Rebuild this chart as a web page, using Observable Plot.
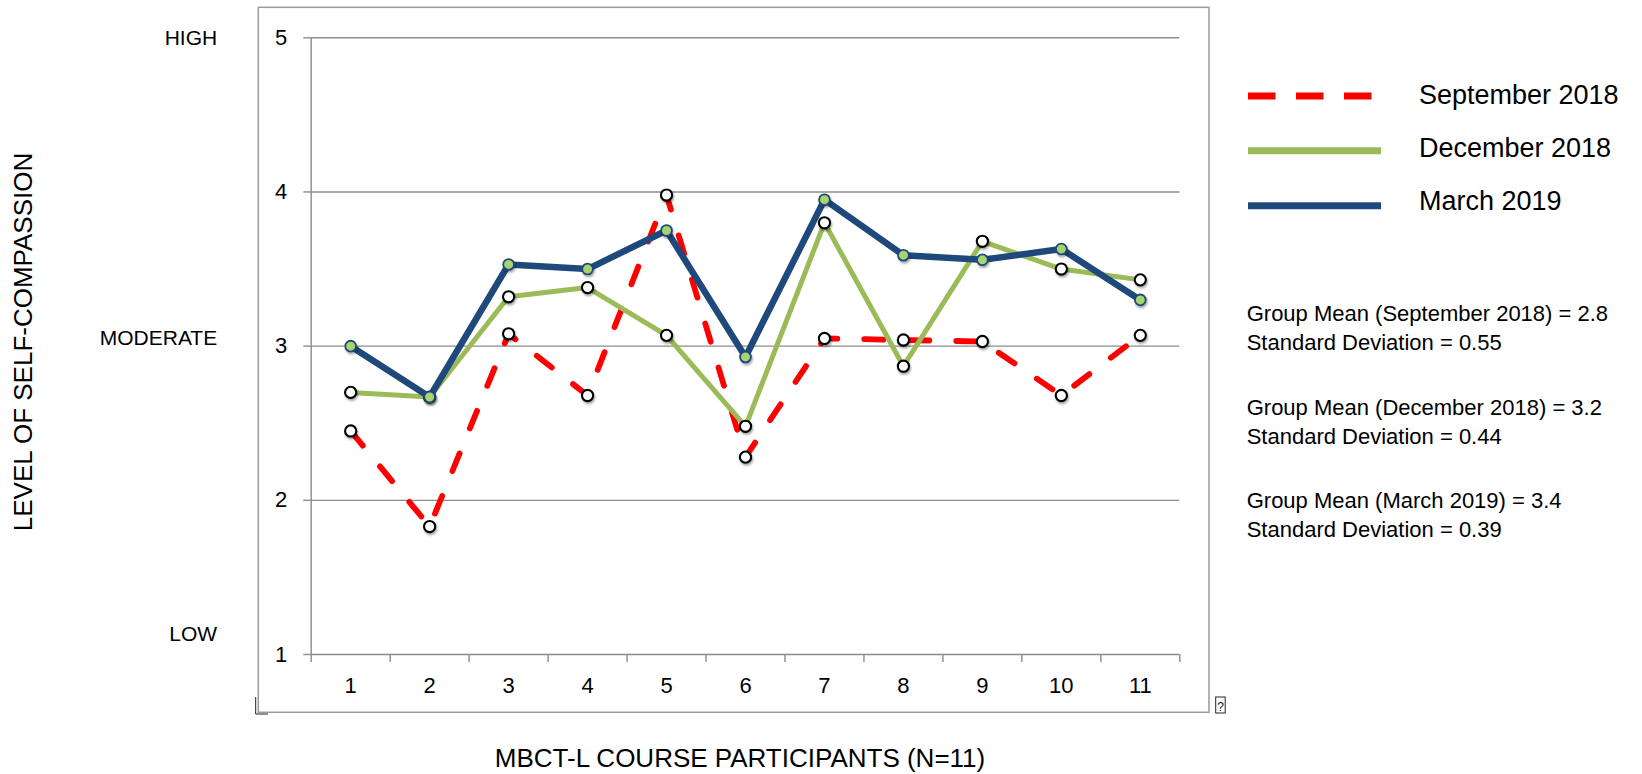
<!DOCTYPE html>
<html><head><meta charset="utf-8">
<script src="https://cdn.jsdelivr.net/npm/d3@7"></script>
<script src="https://cdn.jsdelivr.net/npm/@observablehq/plot@0.6"></script>
<style>html,body{margin:0;padding:0;background:#fff;overflow:hidden;}</style>
</head><body><div id="chart"></div>
<script>
const participants = [1, 2, 3, 4, 5, 6, 7, 8, 9, 10, 11];
const sep2018 = [2.45, 1.83, 3.08, 2.68, 3.98, 2.28, 3.05, 3.04, 3.03, 2.68, 3.07];
const dec2018 = [2.70, 2.67, 3.32, 3.38, 3.07, 2.48, 3.80, 2.87, 3.68, 3.50, 3.43];
const mar2019 = [3.00, 2.67, 3.53, 3.50, 3.75, 2.93, 3.95, 3.59, 3.56, 3.63, 3.30];
const yTicks = [1, 2, 3, 4, 5];
const levelNames = ["HIGH", "MODERATE", "LOW"];
const levelValues = [5, 3, 1];
const seriesNames = ["September 2018", "December 2018", "March 2019"];
const statLines = [
  ["Group Mean (September 2018) = 2.8", "Standard Deviation = 0.55"],
  ["Group Mean (December 2018) = 3.2", "Standard Deviation = 0.44"],
  ["Group Mean (March 2019) = 3.4", "Standard Deviation = 0.39"]
];
const xTitle = "MBCT-L COURSE PARTICIPANTS (N=11)";
const yTitle = "LEVEL OF SELF-COMPASSION";

const toRows = vals => participants.map((p, i) => ({p, v: vals[i]}));
const sep = toRows(sep2018), dec = toRows(dec2018), mar = toRows(mar2019);
const boundaries = [...participants.map(p => p - 0.5), participants[participants.length - 1] + 0.5];

const GRID = "#8c8c8c", RED = "#ff0000", GREEN = "#9bbb59", BLUE = "#1f497d", LIGHTG = "#a8d46f";
const FONT = "'Liberation Sans', Arial, Helvetica, sans-serif";

const levelDy = [0, -8, -20];

const chart = Plot.plot({
  width: 1642, height: 774,
  marginLeft: 310.7, marginRight: 462.7, marginTop: 37.3, marginBottom: 120,
  x: {domain: [0.5, 11.5]},
  y: {domain: [1, 5]},
  style: {fontFamily: FONT, fontSize: "22px", background: "white", color: "black", overflow: "visible"},
  marks: [
    Plot.ruleY(yTicks, {stroke: GRID, strokeWidth: 1.4}),
    Plot.ruleX([0.5], {y1: 1, y2: 5, stroke: GRID, strokeWidth: 1.4}),
    Plot.axisY({ticks: yTicks, tickSize: 7.4, tickPadding: 16.6, stroke: GRID, strokeWidth: 1.4, fill: "black", fontSize: 22, label: null, tickFormat: d => String(d)}),
    Plot.axisX({ticks: boundaries, tickSize: 8, tickFormat: () => "", stroke: GRID, strokeWidth: 1.4, label: null}),
    Plot.axisX({ticks: participants, tickSize: 0, tickPadding: 23.3, fill: "black", fontSize: 22, label: null, tickFormat: d => String(d)}),
    ...levelNames.map((name, i) => Plot.text([levelValues[i]], {
      y: d => d, text: () => name, frameAnchor: "left", dx: -94, dy: levelDy[i],
      textAnchor: "end", fontSize: 21, fill: "black", style: "letter-spacing:0.6px"
    })),
    Plot.line(sep, {x: "p", y: "v", stroke: RED, strokeWidth: 5.8, strokeDasharray: "19,27", strokeLinecap: "round", strokeLinejoin: "round"}),
    Plot.dot(sep, {x: "p", y: "v", r: 5.6, fill: "white", stroke: "black", strokeWidth: 2.1}),
    Plot.line(dec, {x: "p", y: "v", stroke: GREEN, strokeWidth: 5, strokeLinejoin: "round"}),
    Plot.dot(dec, {x: "p", y: "v", r: 5.6, fill: "white", stroke: "black", strokeWidth: 2.1}),
    Plot.line(mar, {x: "p", y: "v", stroke: BLUE, strokeWidth: 6.5, strokeLinejoin: "round"}),
    Plot.dot(mar, {x: "p", y: "v", r: 5.4, fill: LIGHTG, stroke: BLUE, strokeWidth: 1.8})
  ]
});

document.getElementById("chart").appendChild(chart);
const svg = d3.select(chart);

// shadow filter for markers
const defs = svg.insert("defs", ":first-child");
const f = defs.append("filter").attr("id", "mshadow").attr("x", "-50%").attr("y", "-50%").attr("width", "200%").attr("height", "200%");
f.append("feDropShadow").attr("dx", 1).attr("dy", 2).attr("stdDeviation", 1.3).attr("flood-color", "#000").attr("flood-opacity", 0.35);
svg.selectAll('g[aria-label="dot"]').attr("filter", "url(#mshadow)");

// outer chart box
svg.insert("rect", "defs + *")
  .attr("x", 258.3).attr("y", 7.3).attr("width", 950.7).attr("height", 705)
  .attr("fill", "none").attr("stroke", "#9a9a9a").attr("stroke-width", 1.5);

const extra = svg.append("g").attr("text-anchor", "start").attr("font-family", FONT).attr("fill", "black");

// small glyph artifacts at box corners
extra.append("path").attr("d", "M255.7,697 V714 H268").attr("fill", "none").attr("stroke", "#222").attr("stroke-width", 1);
extra.append("rect").attr("x", 1215.7).attr("y", 697).attr("width", 9.5).attr("height", 16)
  .attr("fill", "none").attr("stroke", "#222").attr("stroke-width", 1);
extra.append("text").attr("x", 1220.5).attr("y", 710.5).attr("text-anchor", "middle")
  .attr("font-size", 12).attr("fill", "#111").text("?");

// axis titles
extra.append("text").attr("transform", "translate(31.5,342) rotate(-90)").attr("text-anchor", "middle")
  .attr("font-size", 26).text(yTitle);
extra.append("text").attr("x", 740).attr("y", 767).attr("text-anchor", "middle")
  .attr("font-size", 26).text(xTitle);

// legend
const legColors = [RED, GREEN, BLUE];
const legY = [96, 150.7, 205.7];
const legBase = [104, 157, 210];
seriesNames.forEach((name, i) => {
  const ln = extra.append("line").attr("x1", 1248).attr("x2", i === 0 ? 1372 : 1381)
    .attr("y1", legY[i]).attr("y2", legY[i])
    .attr("stroke", legColors[i]).attr("stroke-width", 7);
  if (i === 0) ln.attr("stroke-dasharray", "27.5,20.5");
  extra.append("text").attr("x", 1419).attr("y", legBase[i]).attr("text-anchor", "start")
    .attr("font-size", 27).text(name);
});

// statistics
const statBase = [[321, 350], [414.5, 443.5], [508, 537]];
statLines.forEach((pair, i) => {
  pair.forEach((t, j) => {
    extra.append("text").attr("x", 1246.7).attr("y", statBase[i][j]).attr("text-anchor", "start")
      .attr("font-size", 22).text(t);
  });
});
</script>
</body></html>
